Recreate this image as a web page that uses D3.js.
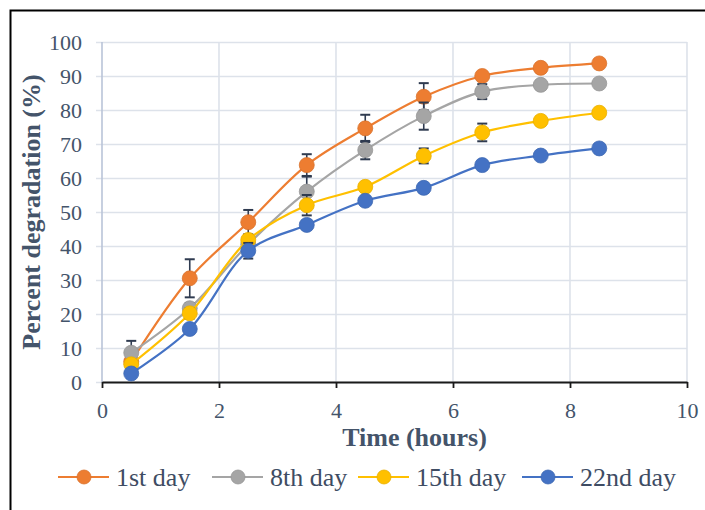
<!DOCTYPE html>
<html>
<head>
<meta charset="utf-8">
<script src="https://cdn.jsdelivr.net/npm/d3@7"></script>
<style>
  html, body { margin: 0; padding: 0; background: #fff; }
  svg { display: block; }
</style>
</head>
<body>
<svg id="chart" width="705" height="510"></svg>
<script>
// Sampling times (hours)
const times = [0.5, 1.5, 2.5, 3.5, 4.5, 5.5, 6.5, 7.5, 8.5];

// Percent degradation per storage day, with error-bar half widths
const day1  = [6.0, 30.5, 47.0, 63.8, 74.6, 83.9, 90.0, 92.4, 93.7];
const day1Err  = [1.5, 5.6, 3.6, 3.2, 4.0, 4.0, 0.8, 0.8, 0.5];
const day8  = [8.6, 21.7, 40.5, 56.0, 68.2, 78.2, 85.4, 87.4, 87.8];
const day8Err  = [3.5, 1.5, 1.5, 4.4, 2.7, 4.0, 2.2, 0.5, 0.5];
const day15 = [5.2, 20.2, 41.8, 52.0, 57.4, 66.5, 73.4, 76.8, 79.2];
const day15Err = [1.0, 1.5, 1.5, 3.0, 1.0, 2.2, 2.6, 1.0, 0.5];
const day22 = [2.5, 15.6, 38.6, 46.2, 53.3, 57.1, 63.8, 66.6, 68.7];
const day22Err = [1.0, 1.0, 2.3, 1.0, 1.0, 1.0, 1.0, 0.8, 0.5];

const seriesNames = ["1st day", "8th day", "15th day", "22nd day"];
const seriesColors = ["#ED7D31", "#A5A5A5", "#FFC000", "#4472C4"];

const xTicks = [0, 2, 4, 6, 8, 10];
const yTicks = [0, 10, 20, 30, 40, 50, 60, 70, 80, 90, 100];

const series = [
  { name: seriesNames[0], color: seriesColors[0], values: day1,  err: day1Err },
  { name: seriesNames[1], color: seriesColors[1], values: day8,  err: day8Err },
  { name: seriesNames[2], color: seriesColors[2], values: day15, err: day15Err },
  { name: seriesNames[3], color: seriesColors[3], values: day22, err: day22Err }
];

const svg = d3.select("#chart");
const W = 705, H = 510;
const plot = { left: 102, right: 687, top: 42, bottom: 382 };

const x = d3.scaleLinear().domain([0, 10]).range([plot.left, plot.right]);
const y = d3.scaleLinear().domain([0, 100]).range([plot.bottom, plot.top]);

const textColor = "#44546A";
const serif = "'Liberation Serif', 'Times New Roman', serif";

// Outer frame
svg.append("path")
  .attr("d", `M10.5,${H} V10.5 H${W}`)
  .attr("fill", "none").attr("stroke", "#000").attr("stroke-width", 2);

// Horizontal gridlines + y labels
const yAxis = d3.axisLeft(y).tickValues(yTicks).tickSize(-(plot.right - plot.left + 6)).tickPadding(14);
const gy = svg.append("g").attr("transform", `translate(${plot.left - 6},0)`).call(yAxis)
  .attr("font-family", serif);
gy.select(".domain").remove();
gy.selectAll(".tick line")
  .attr("stroke", "#dde2ea").attr("stroke-width", 1.6);
gy.selectAll(".tick text")
  .attr("fill", textColor).attr("font-family", serif).attr("font-size", 22);

// Vertical gridlines
svg.append("g").selectAll("line")
  .data(xTicks.filter(d => d > 0))
  .join("line")
  .attr("x1", d => x(d)).attr("x2", d => x(d))
  .attr("y1", plot.top).attr("y2", plot.bottom)
  .attr("stroke", "#dde2ea").attr("stroke-width", 1.6);

// Y axis line
svg.append("line")
  .attr("x1", plot.left).attr("x2", plot.left)
  .attr("y1", plot.top).attr("y2", plot.bottom)
  .attr("stroke", "#b9c4d8").attr("stroke-width", 1.6);

// X axis
const xAxis = d3.axisBottom(x).tickValues(xTicks).tickSize(6).tickSizeOuter(0).tickPadding(14);
const gx = svg.append("g").attr("transform", `translate(0,${plot.bottom})`).call(xAxis)
  .attr("font-family", serif);
gx.select(".domain").attr("stroke", "#1a1a1a").attr("stroke-width", 1.8);
gx.selectAll(".tick line").attr("stroke", "#1a1a1a").attr("stroke-width", 1.8);
gx.selectAll(".tick text")
  .attr("fill", textColor).attr("font-family", serif).attr("font-size", 22);

// Axis titles
svg.append("text")
  .attr("x", (plot.left + plot.right) / 2 + 20).attr("y", 446)
  .attr("text-anchor", "middle")
  .attr("fill", textColor).attr("font-family", serif)
  .attr("font-size", 26).attr("font-weight", "bold")
  .text("Time (hours)");

svg.append("text")
  .attr("transform", "translate(40,212) rotate(-90)")
  .attr("text-anchor", "middle")
  .attr("fill", textColor).attr("font-family", serif)
  .attr("font-size", 26).attr("font-weight", "bold")
  .text("Percent degradation (%)");

// Series
const line = d3.line()
  .x((d, i) => x(times[i]))
  .y(d => y(d))
  .curve(d3.curveCatmullRom.alpha(0.5));

const errColor = "#2f3b50";
const capHalf = 5;

series.forEach(s => {
  const g = svg.append("g");
  g.append("path")
    .attr("d", line(s.values))
    .attr("fill", "none")
    .attr("stroke", s.color)
    .attr("stroke-width", 2.2);

  // error bars sit beneath the markers
  const eb = g.selectAll("g.err")
    .data(s.values.map((v, i) => ({ t: times[i], v, e: s.err[i] })))
    .join("g").attr("class", "err");
  eb.append("line")
    .attr("x1", d => x(d.t)).attr("x2", d => x(d.t))
    .attr("y1", d => y(d.v + d.e)).attr("y2", d => y(d.v - d.e))
    .attr("stroke", errColor).attr("stroke-width", 1.6);
  eb.append("line")
    .attr("x1", d => x(d.t) - capHalf).attr("x2", d => x(d.t) + capHalf)
    .attr("y1", d => y(d.v + d.e)).attr("y2", d => y(d.v + d.e))
    .attr("stroke", errColor).attr("stroke-width", 2);
  eb.append("line")
    .attr("x1", d => x(d.t) - capHalf).attr("x2", d => x(d.t) + capHalf)
    .attr("y1", d => y(d.v - d.e)).attr("y2", d => y(d.v - d.e))
    .attr("stroke", errColor).attr("stroke-width", 2);

  g.selectAll("circle")
    .data(s.values)
    .join("circle")
    .attr("cx", (d, i) => x(times[i]))
    .attr("cy", d => y(d))
    .attr("r", 7.5)
    .attr("fill", s.color)
    .attr("stroke", d3.color(s.color).darker(0.25))
    .attr("stroke-width", 0.8);
});

// Legend
const legendY = 477;
const legendX = [58, 212, 358, 522];
const lg = svg.append("g");
series.forEach((s, i) => {
  const g = lg.append("g").attr("transform", `translate(${legendX[i]},${legendY})`);
  g.append("line").attr("x1", 0).attr("x2", 51).attr("y1", 0).attr("y2", 0)
    .attr("stroke", s.color).attr("stroke-width", 2.2);
  g.append("circle").attr("cx", 26).attr("cy", 0).attr("r", 7)
    .attr("fill", s.color).attr("stroke", d3.color(s.color).darker(0.25)).attr("stroke-width", 0.8);
  g.append("text").attr("x", 58).attr("y", 0).attr("dy", "0.33em")
    .attr("fill", "#3e4c63").attr("font-family", serif).attr("font-size", 26)
    .text(s.name);
});
</script>
</body>
</html>
